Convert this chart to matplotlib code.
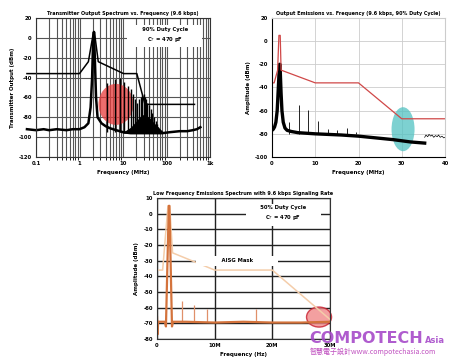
import matplotlib
matplotlib.use("Agg")
import matplotlib.pyplot as plt
from matplotlib.patches import Ellipse
from matplotlib.transforms import ScaledTranslation

plt.rcParams["axes.unicode_minus"] = False

# --- top left: transmitter output spectrum (log x, MHz) ---
mask1_f = [0.062, 1.0, 1.6, 2.1, 2.2, 2.7, 10.3, 20.8, 32.0, 440]
mask1_db = [-36, -36, -24, 6, 6, -24, -36, -36, -67, -67]
sig1_f = [0.062, 0.1, 0.15, 0.2, 0.3, 0.5, 0.7, 1.0, 1.3, 1.6, 1.8, 1.95, 2.05,
          2.15, 2.25, 2.4, 2.6, 3.2, 4.0, 5.0, 7.0, 10, 15, 20, 30, 50, 80, 120,
          200, 300, 400, 500, 600]
sig1_db = [-92, -93, -92, -93, -92, -93, -92, -92, -90, -86, -70, -40, -5,
           6, -20, -60, -80, -86, -89, -91, -93, -95, -96, -96, -96, -96, -96,
           -95, -94, -94, -93, -92, -90]
harm1_f = [4.3, 6.45, 8.6, 10.75, 12.9, 15.05, 17.2, 19.35, 21.5, 23.65, 25.8,
           27.95, 30.1, 32.25, 34.4, 36.55, 38.7, 43.0, 47.3, 51.6, 55.9, 60.2,
           64.5, 68.8]
harm1_db = [-45, -41, -40, -44, -48, -52, -57, -62, -66, -62, -60, -58, -57,
            -60, -62, -66, -68, -72, -76, -80, -84, -87, -90, -92]
env1_f = [10, 15, 20, 25, 30, 40, 50, 65, 85]
env1_db = [-95, -90, -84, -79, -77, -80, -85, -90, -95]
x1_ticks = [0.1, 1, 10, 100, 1000]
x1_labels = ["0.1", "1", "10", "100", "1k"]

# --- top right: output emissions (linear x, MHz) ---
mask2_f = [0, 0.5, 1.3, 1.6, 1.9, 2.1, 10, 20, 30, 40]
mask2_db = [-36, -36, -25, 5, 5, -25, -36, -36, -67, -67]
sig2_f = [0, 0.3, 0.6, 0.9, 1.2, 1.4, 1.6, 1.75, 1.85, 1.95, 2.1, 2.3, 2.6,
          3.0, 3.5, 4.5, 6, 8, 10, 13, 16, 20, 24, 28, 30, 32, 35.3]
sig2_db = [-77, -76, -74, -70, -60, -45, -30, -20, -20, -30, -45, -60, -70,
           -75, -77, -78, -79, -79.5, -80, -80.5, -81, -82, -83.5, -85, -86,
           -87, -88]
tail2_f = [35.3, 35.6, 36.0, 36.3, 36.7, 37.0, 37.4, 37.8, 38.2, 38.5, 38.9,
           39.3, 39.7, 40]
tail2_db = [-83, -81, -82.5, -80.5, -82, -81, -83, -81.5, -82.5, -81, -83, -82,
            -83.5, -83]
spur2_f = [4.0, 6.2, 8.4, 10.7, 12.9, 15.0, 17.4, 19.5]
spur2_db = [-70, -55, -59, -69, -76, -77, -75, -78]

# --- bottom: low frequency emissions (linear x, Hz) ---
mask3_f = [0, 0.98e6, 1.9e6, 2.2e6, 2.7e6, 10e6, 20e6, 30e6]
mask3_db = [-36, -36, 5, 5, -25, -36, -36, -67.5]
sig3_f = [0, 0.1e6, 0.2e6, 0.5e6, 1.0e6, 1.4e6, 1.55e6, 1.95e6, 2.05e6,
          2.15e6, 2.6e6, 2.75e6, 3.5e6, 5e6, 10e6, 15e6, 20e6, 25e6, 30e6]
sig3_db = [-66, -77, -69, -69, -69, -69, -72, -10, 5, 5, -72, -69, -69, -69,
           -69.5, -69, -69.5, -69.5, -69]
spur3_f = [4.3e6, 6.5e6, 8.6e6, 17.2e6]
spur3_db = [-56, -58, -61, -61]
x3_ticks = [0, 10e6, 20e6, 30e6]
x3_labels = ["0", "10M", "20M", "30M"]

DPI = 100
fig = plt.figure(figsize=(4.5, 3.6), dpi=DPI)
fs_tick = 3.8
fs_title = 3.5


def highlight(ax, x, y, w_px, h_px, **kw):
    tr = fig.dpi_scale_trans + ScaledTranslation(x, y, ax.transData)
    ax.add_patch(Ellipse((0, 0), w_px / DPI, h_px / DPI, transform=tr,
                         clip_on=False, **kw))


def style(ax, title, xlabel, ylabel):
    ax.set_title(title, fontsize=fs_title, fontweight="bold", pad=2.5)
    ax.set_xlabel(xlabel, fontsize=4, fontweight="bold", labelpad=3)
    ax.set_ylabel(ylabel, fontsize=4, fontweight="bold", labelpad=3)
    ax.tick_params(labelsize=fs_tick, length=0, pad=3)
    for t in ax.get_xticklabels() + ax.get_yticklabels():
        t.set_fontweight("bold")


# top left
ax1 = fig.add_axes([36 / 450, 1 - 157 / 360, 174 / 450, 139 / 360])
ax1.set_xscale("log")
ax1.set_xlim(0.1, 1000)
ax1.set_ylim(-120, 20)
ax1.set_yticks(range(-120, 21, 20))
ax1.set_xticks(x1_ticks, x1_labels)
ax1.grid(True, which="both", color="#555555", lw=0.8)
ax1.set_axisbelow(True)
ax1.fill_between(env1_f, env1_db, -96, color="black", lw=0)
ax1.vlines(harm1_f, -95, harm1_db, color="black", lw=1.0)
ax1.plot(sig1_f, sig1_db, color="black", lw=1.8, clip_on=False)
ax1.plot(mask1_f, mask1_db, color="black", lw=1.1, clip_on=False)
ax1.text(0.74, 0.875, "      90% Duty Cycle      \nC$_T$ = 470 pF", transform=ax1.transAxes,
         ha="center", va="center", fontsize=3.8, fontweight="bold", linespacing=1.5,
         bbox=dict(facecolor="white", edgecolor="none", pad=2.5))
highlight(ax1, 6.9, -67, 35, 41, facecolor="#e83c3c", edgecolor="none", alpha=0.75)
for s in ax1.spines.values():
    s.set_color("#333333")
style(ax1, "Transmitter Output Spectrum vs. Frequency (9.6 kbps)",
      "Frequency (MHz)", "Transmitter Output (dBm)")

# top right
ax2 = fig.add_axes([272 / 450, 1 - 157 / 360, 173 / 450, 139 / 360])
ax2.set_xlim(0, 40)
ax2.set_ylim(-100, 20)
ax2.set_xticks(range(0, 41, 10))
ax2.set_yticks(range(-100, 21, 20))
ax2.grid(True, color="#cccccc", lw=0.6)
ax2.set_axisbelow(True)
ax2.vlines(spur2_f, -80, spur2_db, color="black", lw=0.6)
ax2.plot(sig2_f, sig2_db, color="black", lw=2.4)
ax2.plot(tail2_f, tail2_db, color="black", lw=0.5)
ax2.plot(mask2_f, mask2_db, color="#d04848", lw=0.9)
highlight(ax2, 30.3, -76, 23, 44, facecolor="#52c2c2", edgecolor="none", alpha=0.75)
ax2.spines["top"].set_color("#cccccc")
ax2.spines["right"].set_color("#cccccc")
style(ax2, "Output Emissions vs. Frequency (9.6 kbps, 90% Duty Cycle)",
      "Frequency (MHz)", "Amplitude (dBm)")

# bottom
ax3 = fig.add_axes([157 / 450, 1 - 339 / 360, 173 / 450, 141 / 360])
ax3.set_xlim(0, 30e6)
ax3.set_ylim(-80, 10)
ax3.set_xticks(x3_ticks, x3_labels)
ax3.set_yticks(range(-80, 11, 10))
ax3.grid(True, color="#222222", lw=1.0)
ax3.set_axisbelow(True)
ax3.plot(mask3_f, mask3_db, color="#f4cdaa", lw=1.1)
ax3.vlines(spur3_f, -69, spur3_db, color="#e0906a", lw=0.9)
ax3.plot(sig3_f, sig3_db, color="#d4733c", lw=1.6)
ax3.text(0.73, 0.887, "      50% Duty Cycle      \nC$_T$ = 470 pF", transform=ax3.transAxes,
         ha="center", va="center", fontsize=3.8, fontweight="bold", linespacing=1.5,
         bbox=dict(facecolor="white", edgecolor="none", pad=2.5))
ax3.text(13.9e6, -30.2, "            AISG Mask            ", ha="center", va="center",
         fontsize=3.8, fontweight="bold",
         bbox=dict(facecolor="white", edgecolor="none", pad=2.0))
highlight(ax3, 28.1e6, -66, 25, 20, facecolor="#f08888", edgecolor="#c81e2e",
          lw=1.0, alpha=0.8)
for s in ax3.spines.values():
    s.set_color("#333333")
style(ax3, "Low Frequency Emissions Spectrum with 9.6 kbps Signaling Rate",
      "Frequency (Hz)", "Amplitude (dBm)")

# watermark
fig.text(309 / 450, 1 - 343 / 360, "COMPOTECH", fontsize=11.5, color="#a64ac9",
         family="DejaVu Sans", fontweight="bold", alpha=0.9)
fig.text(425 / 450, 1 - 343 / 360, "Asia", fontsize=6, color="#a64ac9",
         family="DejaVu Sans", fontweight="bold", alpha=0.9)
fig.text(310 / 450, 1 - 354 / 360, "智慧電子設計www.compotechasia.com", fontsize=5,
         color="#c050c0", family=["Noto Sans CJK TC", "DejaVu Sans"])

fig.savefig("out.png", dpi=DPI)
